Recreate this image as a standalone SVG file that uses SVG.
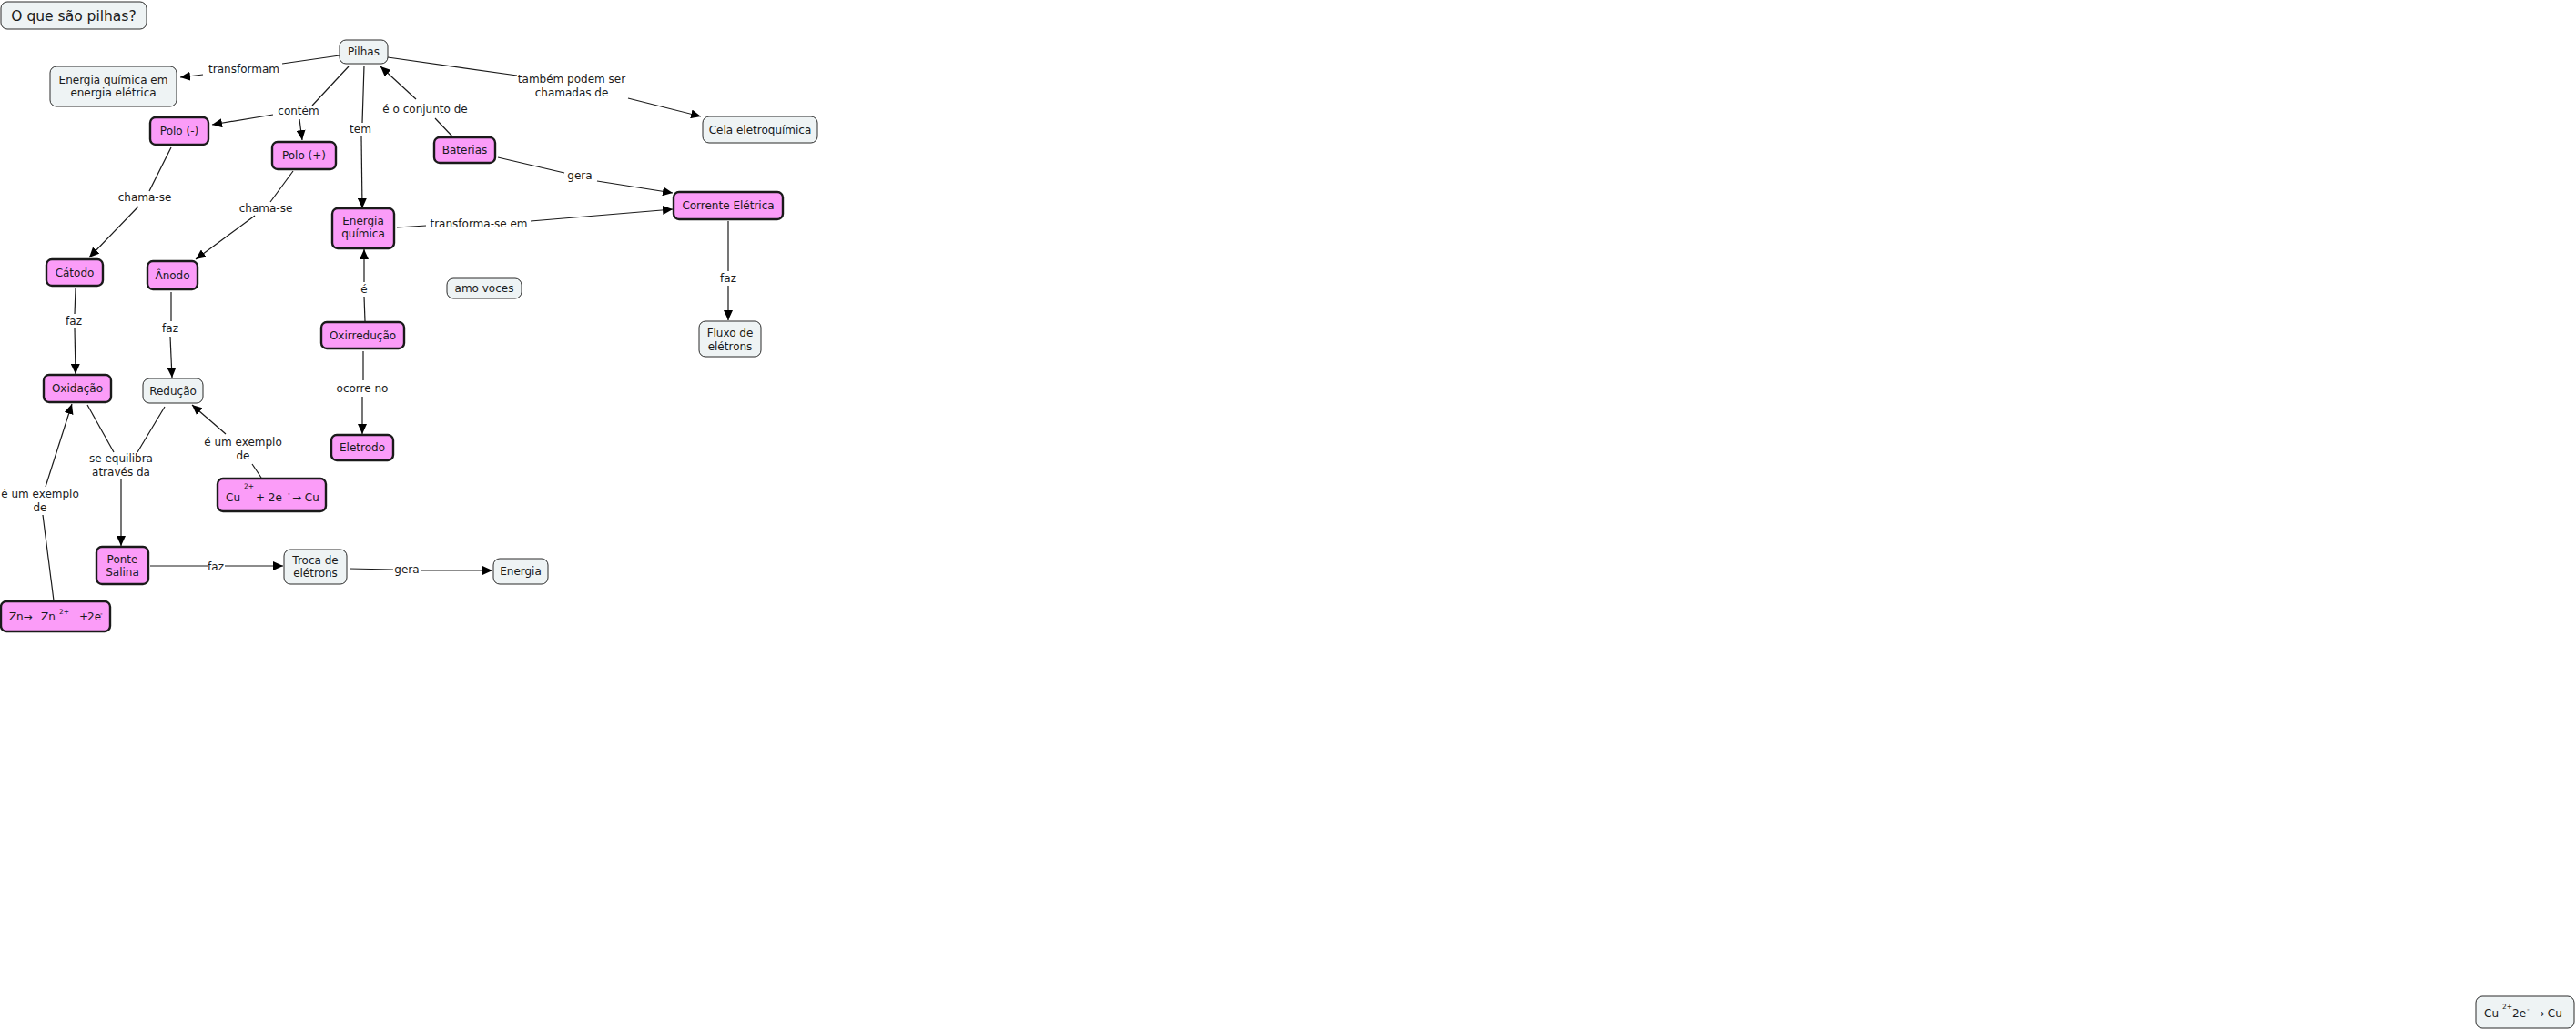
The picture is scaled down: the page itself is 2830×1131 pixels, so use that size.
<svg xmlns="http://www.w3.org/2000/svg" width="2830" height="1131" viewBox="0 0 2830 1131">
<style>
text{font-family:"DejaVu Sans","Verdana",sans-serif;font-size:12px;fill:#1a1a1a;text-anchor:middle}
.l{fill:#eef3f4;stroke:#2a2a2a;stroke-width:1}
.p{fill:#fb9cf8;stroke:#1a1a1a;stroke-width:2.4}
.c line{stroke:#1a1a1a;stroke-width:1.2}
.a{marker-end:url(#ah)}
.sup{font-size:7.5px}
.st{text-anchor:start}
</style>
<defs>
<marker id="ah" markerUnits="userSpaceOnUse" markerWidth="12" markerHeight="10" refX="11" refY="5" orient="auto">
<path d="M0,0 L11,5 L0,10 z" fill="#000"/>
</marker>
</defs>
<rect width="2830" height="1131" fill="#fff"/>
<g class="c" id="connectors">
<line x1="373" y1="61" x2="310" y2="70"/><line class="a" x1="223" y1="82" x2="198" y2="85"/>
<line x1="383" y1="73" x2="343" y2="116"/><line class="a" x1="300" y1="126" x2="233" y2="137"/><line class="a" x1="329" y1="131" x2="332" y2="154"/>
<line x1="400" y1="72" x2="398" y2="135"/><line class="a" x1="397" y1="150" x2="398" y2="229"/>
<line x1="497" y1="150" x2="478" y2="130"/><line class="a" x1="457" y1="109" x2="418" y2="73"/>
<line x1="426" y1="63" x2="568" y2="83"/><line class="a" x1="690" y1="108" x2="770" y2="128"/>
<line x1="547" y1="173" x2="620" y2="190"/><line class="a" x1="656" y1="199" x2="739" y2="212"/>
<line x1="436" y1="250" x2="468" y2="248"/><line class="a" x1="583" y1="243" x2="739" y2="230"/>
<line x1="800" y1="243" x2="800" y2="298"/><line class="a" x1="800" y1="314" x2="800" y2="352"/>
<line x1="188" y1="162" x2="164" y2="210"/><line class="a" x1="152" y1="227" x2="98" y2="283"/>
<line x1="322" y1="188" x2="297" y2="222"/><line class="a" x1="280" y1="237" x2="215" y2="285"/>
<line x1="83" y1="317" x2="82" y2="345"/><line class="a" x1="82" y1="361" x2="83" y2="411"/>
<line x1="188" y1="321" x2="188" y2="353"/><line class="a" x1="187" y1="370" x2="189" y2="415"/>
<line x1="401" y1="353" x2="400" y2="326"/><line class="a" x1="400" y1="310" x2="400" y2="274"/>
<line x1="399" y1="386" x2="399" y2="418"/><line class="a" x1="398" y1="436" x2="398" y2="477"/>
<line x1="287" y1="525" x2="277" y2="510"/><line class="a" x1="248" y1="477" x2="211" y2="445"/>
<line x1="96" y1="445" x2="125" y2="497"/><line x1="181" y1="447" x2="151" y2="497"/><line class="a" x1="133" y1="527" x2="133" y2="600"/>
<line x1="165" y1="622" x2="228" y2="622"/><line class="a" x1="247" y1="622" x2="311" y2="622"/>
<line x1="384" y1="625" x2="432" y2="626"/><line class="a" x1="463" y1="627" x2="541" y2="627"/>
<line x1="59" y1="660" x2="47" y2="566"/><line class="a" x1="50" y1="535" x2="79" y2="444"/>
</g>
<g id="labels">
<text x="268" y="80">transformam</text>
<text x="328" y="126">contém</text>
<text x="396" y="146">tem</text>
<text x="467" y="124">é o conjunto de</text>
<text x="628" y="91">também podem ser</text>
<text x="628" y="106">chamadas de</text>
<text x="637" y="197">gera</text>
<text x="526" y="250">transforma-se em</text>
<text x="800" y="310">faz</text>
<text x="159" y="221">chama-se</text>
<text x="292" y="233">chama-se</text>
<text x="81" y="357">faz</text>
<text x="187" y="365">faz</text>
<text x="400" y="322">é</text>
<text x="398" y="431">ocorre no</text>
<text x="267" y="490">é um exemplo</text>
<text x="267" y="505">de</text>
<text x="133" y="508">se equilibra</text>
<text x="133" y="523">através da</text>
<text x="237" y="627">faz</text>
<text x="447" y="630">gera</text>
<text x="44" y="547">é um exemplo</text>
<text x="44" y="562">de</text>
</g>
<g id="n-title"><rect class="l" x="1" y="2" width="160" height="30" rx="7"/><text x="81" y="23" style="font-size:15.5px">O que são pilhas?</text></g>
<g id="n-pilhas"><rect class="l" x="373" y="44" width="53" height="26" rx="7"/><text x="399.5" y="61">Pilhas</text></g>
<g id="n-energia-em"><rect class="l" x="55" y="73" width="139" height="44" rx="7"/><text x="124.5" y="92">Energia química em</text><text x="124.5" y="106">energia elétrica</text></g>
<g id="n-polo-neg"><rect class="p" x="165" y="129" width="64" height="30" rx="6"/><text x="197" y="148">Polo (-)</text></g>
<g id="n-polo-pos"><rect class="p" x="299" y="156" width="70" height="30" rx="6"/><text x="334" y="175">Polo (+)</text></g>
<g id="n-energia-quimica"><rect class="p" x="365" y="229" width="68" height="44" rx="6"/><text x="399" y="247">Energia</text><text x="399" y="261">química</text></g>
<g id="n-cela"><rect class="l" x="772" y="128" width="126" height="29" rx="7"/><text x="835" y="147">Cela eletroquímica</text></g>
<g id="n-baterias"><rect class="p" x="477" y="151" width="67" height="28" rx="6"/><text x="510.5" y="169">Baterias</text></g>
<g id="n-corrente"><rect class="p" x="740" y="211" width="120" height="30" rx="6"/><text x="800" y="230">Corrente Elétrica</text></g>
<g id="n-catodo"><rect class="p" x="51" y="285" width="62" height="29" rx="6"/><text x="82" y="304">Cátodo</text></g>
<g id="n-anodo"><rect class="p" x="162" y="287" width="55" height="31" rx="6"/><text x="189.5" y="307">Ânodo</text></g>
<g id="n-oxidacao"><rect class="p" x="48" y="412" width="74" height="30" rx="6"/><text x="85" y="431">Oxidação</text></g>
<g id="n-reducao"><rect class="l" x="157" y="416" width="66" height="27" rx="7"/><text x="190" y="434">Redução</text></g>
<g id="n-oxirreducao"><rect class="p" x="353" y="354" width="91" height="29" rx="6"/><text x="398.5" y="373">Oxirredução</text></g>
<g id="n-amo"><rect class="l" x="491" y="306" width="82" height="22" rx="7"/><text x="532" y="321">amo voces</text></g>
<g id="n-fluxo"><rect class="l" x="768" y="353" width="68" height="39" rx="7"/><text x="802" y="370">Fluxo de</text><text x="802" y="385">elétrons</text></g>
<g id="n-eletrodo"><rect class="p" x="364" y="478" width="68" height="28" rx="6"/><text x="398" y="496">Eletrodo</text></g>
<g id="n-cu"><rect class="p" x="239" y="526" width="119" height="36" rx="6"/>
<text class="st" y="551"><tspan x="248">Cu</tspan><tspan x="268" y="537" class="sup">2+</tspan><tspan x="281" y="551">+ 2e</tspan><tspan x="316" y="545" class="sup">-</tspan><tspan x="321" y="551">→ Cu</tspan></text></g>
<g id="n-ponte"><rect class="p" x="106" y="601" width="57" height="41" rx="6"/><text x="134.5" y="619">Ponte</text><text x="134.5" y="633">Salina</text></g>
<g id="n-troca"><rect class="l" x="312" y="604" width="69" height="38" rx="7"/><text x="346.5" y="620">Troca de</text><text x="346.5" y="634">elétrons</text></g>
<g id="n-energia"><rect class="l" x="542" y="614" width="60" height="28" rx="7"/><text x="572" y="632">Energia</text></g>
<g id="n-zn"><rect class="p" x="1" y="661" width="120" height="33" rx="6"/>
<text class="st" y="682"><tspan x="10">Z</tspan><tspan x="18">n→</tspan><tspan x="45">Zn</tspan><tspan x="65" y="675" class="sup">2+</tspan><tspan x="87" y="682">+</tspan><tspan x="96">2e</tspan><tspan x="110" y="677" class="sup">-</tspan></text></g>
<g id="n-cu2"><rect class="l" x="2720" y="1095" width="108" height="35" rx="7"/>
<text class="st" y="1118"><tspan x="2729">Cu</tspan><tspan x="2749" y="1109" class="sup">2+</tspan><tspan x="2760" y="1118">2e</tspan><tspan x="2776" y="1112" class="sup">-</tspan><tspan x="2785" y="1118">→ Cu</tspan></text></g>
</svg>
